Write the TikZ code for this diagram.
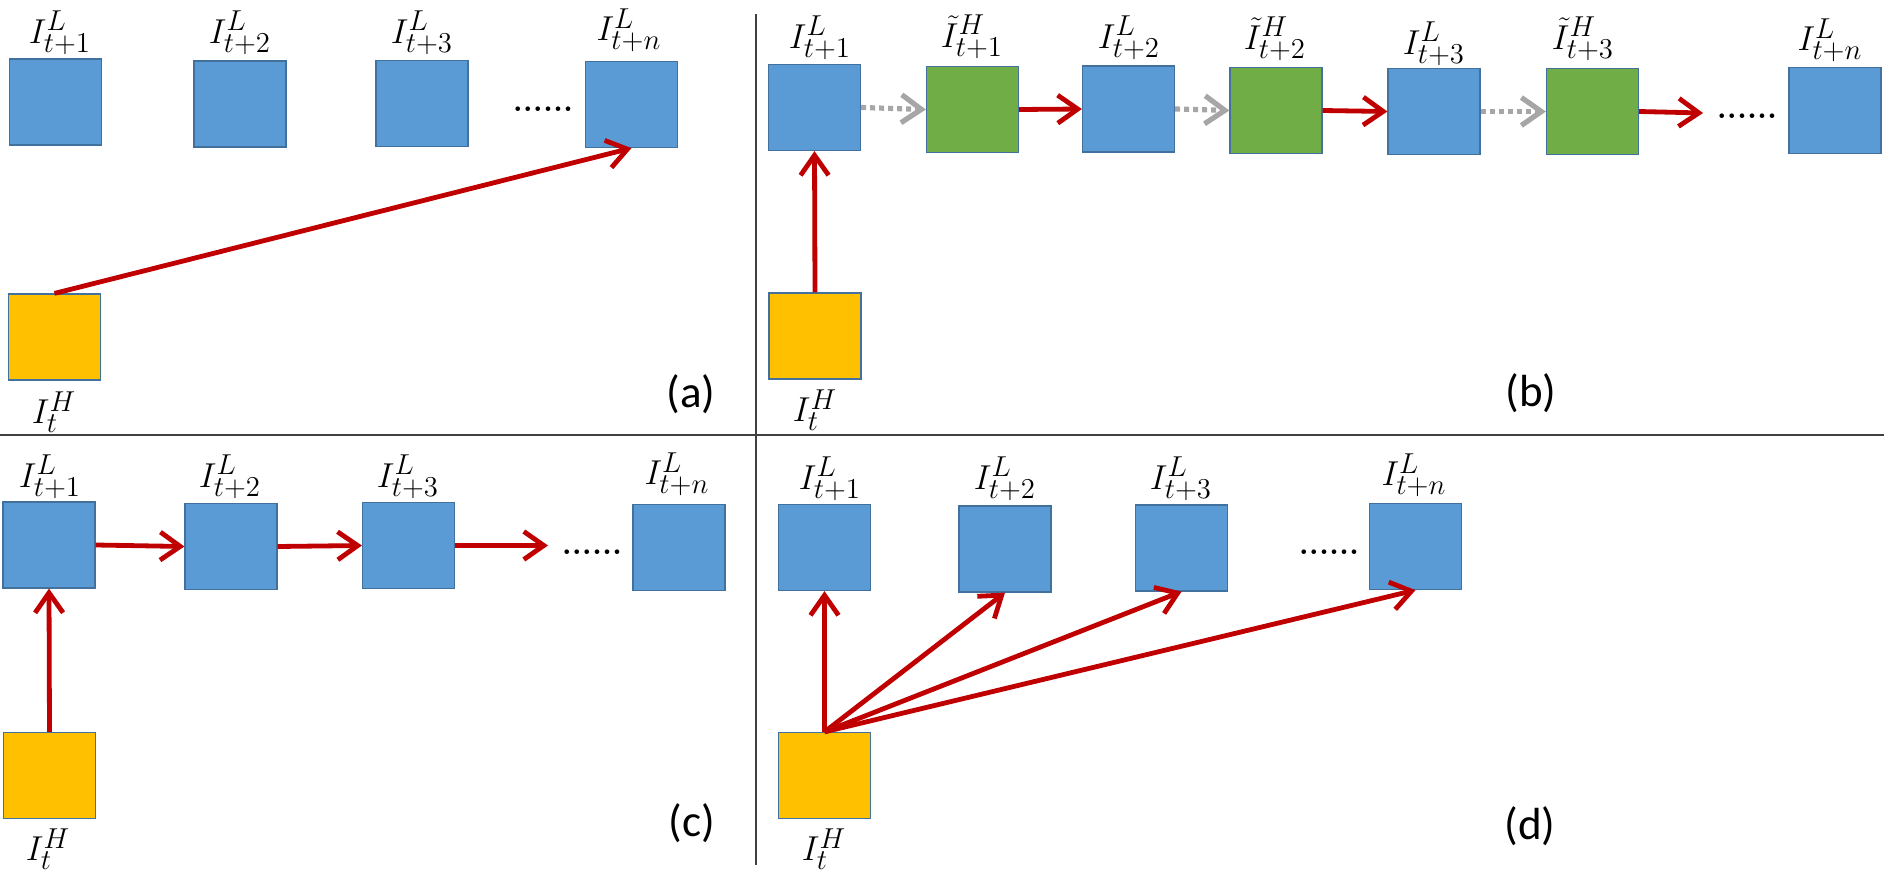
\documentclass[tikz,border=0pt]{standalone}
\usepackage{fontspec}
\newfontfamily\tagfont{Carlito}
\usetikzlibrary{arrows.meta}

\newlength{\du}
\setlength{\du}{0.5\unitlength}

\definecolor{lrblue}{rgb}{0.357,0.608,0.835}
\definecolor{hrgreen}{rgb}{0.439,0.678,0.278}
\definecolor{hryellow}{rgb}{1.000,0.753,0.000}
\definecolor{edgeblue}{rgb}{0.255,0.443,0.612}
\definecolor{arrred}{rgb}{0.753,0.000,0.000}
\definecolor{arrgray}{rgb}{0.651,0.651,0.651}

\tikzset{
  cellbox/.style={draw=edgeblue, line width=0.6pt, inner sep=0pt, minimum width=92\du, minimum height=86\du},
  lrbox/.style={cellbox, fill=lrblue},
  hrbox/.style={cellbox, fill=hryellow},
  srbox/.style={cellbox, fill=hrgreen},
  mlabel/.style={inner sep=0pt, font=\fontsize{19}{22}\selectfont},
  ptag/.style={inner sep=0pt, font=\tagfont\fontsize{22.5}{26}\selectfont},
  dotrow/.style={inner sep=0pt, font=\bfseries\fontsize{16}{20}\selectfont},
  push/.style={draw=arrred, line width=2.4pt, -{Straight Barb[length=10pt,width=14pt]}},
  guess/.style={draw=arrgray, line width=2.6pt, dash pattern=on 2.5pt off 2pt, -{Straight Barb[length=10pt,width=14pt]}},
  divider/.style={draw=black!75, line width=0.8pt}
}

\begin{document}
\begin{tikzpicture}
\pgftransformxscale{1.000000}
\pgftransformyscale{-1.000000}
\useasboundingbox (0\du,0\du) rectangle (1884\du,877\du);
% panel borders
\draw[divider] (0\du,435\du)--(1884\du,435\du);
\draw[divider] (756\du,14\du)--(756\du,865\du);
% (a)
\node[lrbox] (a1) at (55.5\du,102\du){};
\node[lrbox] (a2) at (240\du,104\du){};
\node[lrbox] (a3) at (422\du,103.5\du){};
\node[lrbox] (an) at (631.5\du,104.5\du){};
\node[hrbox] (aH) at (54.5\du,337\du){};
\node[mlabel] (a1t) at (60\du,33\du){$I^{L}_{t+1}$};
\node[mlabel] (a2t) at (240\du,33\du){$I^{L}_{t+2}$};
\node[mlabel] (a3t) at (422\du,33\du){$I^{L}_{t+3}$};
\node[mlabel] (ant) at (629\du,30\du){$I^{L}_{t+n}$};
\node[mlabel] (aHt) at (54\du,412\du){$I^{H}_{t}$};
\node[dotrow] (adots) at (543\du,109\du){......};
\node[ptag] (atag) at (691\du,394\du){(a)};
\draw[push] (aH.north)--(an.south);
% (b)
\node[lrbox] (b1) at (814.5\du,107.5\du){};
\node[srbox] (bg1) at (972.5\du,109.5\du){};
\node[lrbox] (b2) at (1128.5\du,109\du){};
\node[srbox] (bg2) at (1276\du,110.5\du){};
\node[lrbox] (b3) at (1434\du,111.5\du){};
\node[srbox] (bg3) at (1592.5\du,111.5\du){};
\node[lrbox] (bn) at (1835\du,110.5\du){};
\node[hrbox] (bH) at (815\du,336\du){};
\node[mlabel] (b1t) at (820\du,38\du){$I^{L}_{t+1}$};
\node[mlabel] (bg1t) at (972\du,37\du){$\tilde{I}^{H}_{t+1}$};
\node[mlabel] (b2t) at (1129\du,38\du){$I^{L}_{t+2}$};
\node[mlabel] (bg2t) at (1275\du,39\du){$\tilde{I}^{H}_{t+2}$};
\node[mlabel] (b3t) at (1434\du,44\du){$I^{L}_{t+3}$};
\node[mlabel] (bg3t) at (1583\du,39\du){$\tilde{I}^{H}_{t+3}$};
\node[mlabel] (bnt) at (1830\du,40\du){$I^{L}_{t+n}$};
\node[mlabel] (bHt) at (815\du,410\du){$I^{H}_{t}$};
\node[dotrow] (bdots) at (1747\du,116\du){......};
\node[ptag] (btag) at (1531\du,393\du){(b)};
\coordinate (bstop) at (1703\du,113\du);
\draw[push] (bH.north)--(b1.south);
\draw[guess] (b1.east)--(bg1.west);
\draw[push] (bg1.east)--(b2.west);
\draw[guess] (b2.east)--(bg2.west);
\draw[push] (bg2.east)--(b3.west);
\draw[guess] (b3.east)--(bg3.west);
\draw[push] (bg3.east)--(bstop);
% (c)
\node[lrbox] (c1) at (49\du,545\du){};
\node[lrbox] (c2) at (231\du,546.5\du){};
\node[lrbox] (c3) at (408.5\du,545.5\du){};
\node[lrbox] (cn) at (679\du,547.5\du){};
\node[hrbox] (cH) at (49.5\du,775.5\du){};
\node[mlabel] (c1t) at (50\du,477\du){$I^{L}_{t+1}$};
\node[mlabel] (c2t) at (230\du,477\du){$I^{L}_{t+2}$};
\node[mlabel] (c3t) at (408\du,477\du){$I^{L}_{t+3}$};
\node[mlabel] (cnt) at (677\du,474\du){$I^{L}_{t+n}$};
\node[mlabel] (cHt) at (48\du,849\du){$I^{H}_{t}$};
\node[dotrow] (cdots) at (592\du,552\du){......};
\node[ptag] (ctag) at (692\du,823\du){(c)};
\coordinate (cstop) at (548\du,545.5\du);
\draw[push] (cH.north)--(c1.south);
\draw[push] (c1.east)--(c2.west);
\draw[push] (c2.east)--(c3.west);
\draw[push] (c3.east)--(cstop);
% (d)
\node[lrbox] (d1) at (824.5\du,547.5\du){};
\node[lrbox] (d2) at (1005\du,549\du){};
\node[lrbox] (d3) at (1181.5\du,548\du){};
\node[lrbox] (dn) at (1415.5\du,546.5\du){};
\node[hrbox] (dH) at (824.5\du,775.5\du){};
\node[mlabel] (d1t) at (830\du,479\du){$I^{L}_{t+1}$};
\node[mlabel] (d2t) at (1005\du,479\du){$I^{L}_{t+2}$};
\node[mlabel] (d3t) at (1181\du,479\du){$I^{L}_{t+3}$};
\node[mlabel] (dnt) at (1414\du,475\du){$I^{L}_{t+n}$};
\node[mlabel] (dHt) at (824\du,849\du){$I^{H}_{t}$};
\node[dotrow] (ddots) at (1329\du,552\du){......};
\node[ptag] (dtag) at (1530\du,826\du){(d)};
\draw[push] (dH.north)--(d1.south);
\draw[push] (dH.north)--(d2.south);
\draw[push] (dH.north)--(d3.south);
\draw[push] (dH.north)--(dn.south);
\end{tikzpicture}
\end{document}
